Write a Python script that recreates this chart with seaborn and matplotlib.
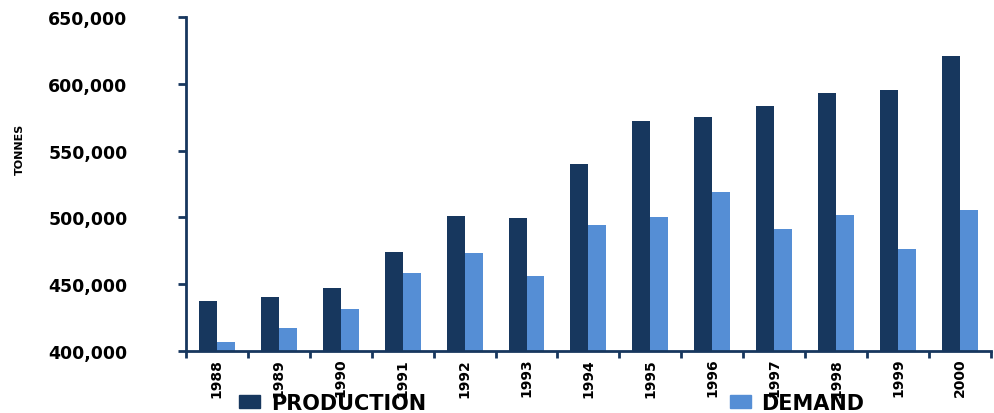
import pandas as pd
import matplotlib
matplotlib.use("Agg")
import matplotlib.pyplot as plt
import seaborn as sns
from matplotlib.ticker import FuncFormatter, FixedLocator

years = ["1988", "1989", "1990", "1991", "1992", "1993", "1994",
         "1995", "1996", "1997", "1998", "1999", "2000"]
production = [437000, 440000, 447000, 474000, 501000, 499500, 540000,
              572000, 575000, 583000, 593000, 595000, 621000]
demand = [407000, 417000, 431000, 458000, 473000, 456000, 494000,
          500000, 519000, 491000, 502000, 476000, 505500]
series = ["PRODUCTION", "DEMAND"]
colors = ["#17375E", "#558ED5"]

df = pd.DataFrame({
    "Year": years * 2,
    "Tonnes": production + demand,
    "Series": [series[0]] * len(years) + [series[1]] * len(years),
})

sns.set_style("white")
plt.rcParams["font.family"] = ["DejaVu Sans"]
plt.rcParams["text.color"] = "black"
plt.rcParams["xtick.color"] = "black"
plt.rcParams["ytick.color"] = "black"

fig = plt.figure(figsize=(9.94, 4.14), dpi=100)
ax = fig.add_axes([0.187, 0.150, 0.810, 0.8065])

sns.barplot(data=df, x="Year", y="Tonnes", hue="Series", palette=colors,
            width=0.58, gap=0, saturation=1, linewidth=0, ax=ax, legend=False)

ax.set_ylim(400000, 650000)
ax.set_yticks(range(400000, 650001, 50000))
ax.yaxis.set_major_formatter(FuncFormatter(lambda v, p: f"{int(v):,}"))
ax.set_xlim(-0.5, len(years) - 0.5)

navy = "#17375E"
for side in ["top", "right"]:
    ax.spines[side].set_visible(False)
for side in ["left", "bottom"]:
    ax.spines[side].set_color(navy)
    ax.spines[side].set_linewidth(2)

ax.tick_params(axis="y", direction="out", length=6, width=2, color=navy,
               labelcolor="black", labelsize=12.5, pad=36, left=True)
for lab in ax.get_yticklabels():
    lab.set_fontweight("bold")
ax.tick_params(axis="x", which="major", length=0, labelsize=10, pad=5,
               labelcolor="black", labelrotation=90)
for lab in ax.get_xticklabels():
    lab.set_fontweight("bold")
ax.xaxis.set_minor_locator(FixedLocator([i + 0.5 for i in range(-1, len(years))]))
ax.tick_params(axis="x", which="minor", direction="out", length=5, width=2,
               color=navy, bottom=True)

ax.set_xlabel("")
ax.set_ylabel("")
fig.text(0.020, 0.64, "TONNES", rotation=90, fontsize=8, fontweight="bold",
         ha="center", va="center")

handles = [plt.Rectangle((0, 0), 1, 1, color=c) for c in colors]
fig.legend(handles, series, loc="lower left", bbox_to_anchor=(0.222, -0.045),
           ncol=2, frameon=False, columnspacing=14.6, handlelength=1.0,
           handleheight=0.6, handletextpad=0.5,
           prop={"weight": "bold", "size": 15})

fig.savefig("out.png", dpi=100)
